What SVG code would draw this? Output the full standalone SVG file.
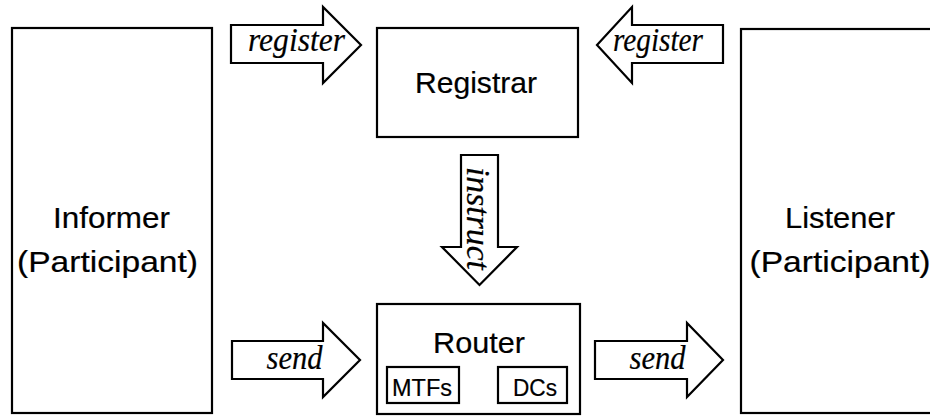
<svg xmlns="http://www.w3.org/2000/svg" width="930" height="416" viewBox="0 0 930 416">
<style>
.box{fill:#fff;stroke:#000;stroke-width:2.2}
.arr{fill:#fff;stroke:#000;stroke-width:2.2;stroke-linejoin:miter}
.sans{font-family:"Liberation Sans",Arial,sans-serif;font-size:29.5px;fill:#000;stroke:#000;stroke-width:0.2;text-anchor:middle}
.small{font-family:"Liberation Sans",Arial,sans-serif;font-size:24px;fill:#000;stroke:#000;stroke-width:0.2;text-anchor:middle}
.ital{font-family:"Liberation Serif","Times New Roman",serif;font-style:italic;font-size:34px;fill:#000;stroke:#000;stroke-width:0.2;text-anchor:middle}
</style>
<rect width="930" height="416" fill="#fff"/>
<g id="informer">
<rect class="box" x="12" y="28" width="200" height="385"/>
<text class="sans" x="111.5" y="228" textLength="117" lengthAdjust="spacingAndGlyphs">Informer</text>
<text class="sans" x="107.5" y="272" textLength="181" lengthAdjust="spacingAndGlyphs">(Participant)</text>
</g>
<g id="registrar">
<rect class="box" x="377" y="28" width="201" height="109"/>
<text class="sans" x="476" y="93" textLength="122" lengthAdjust="spacingAndGlyphs">Registrar</text>
</g>
<g id="router">
<rect class="box" x="377" y="304" width="203" height="110"/>
<text class="sans" x="479" y="353" textLength="92" lengthAdjust="spacingAndGlyphs">Router</text>
<rect class="box" x="387" y="367" width="72" height="36"/>
<text class="small" x="422" y="396" textLength="60" lengthAdjust="spacingAndGlyphs">MTFs</text>
<rect class="box" x="498" y="367" width="69" height="36"/>
<text class="small" x="535" y="396" textLength="44" lengthAdjust="spacingAndGlyphs">DCs</text>
</g>
<g id="listener">
<rect class="box" x="741" y="29" width="200" height="384"/>
<text class="sans" x="840" y="228" textLength="110" lengthAdjust="spacingAndGlyphs">Listener</text>
<text class="sans" x="840" y="272" textLength="181" lengthAdjust="spacingAndGlyphs">(Participant)</text>
</g>
<g id="connectors">
<g id="register-left">
<path class="arr" d="M231,25 H323 V7 L361,45 L323,83 V63 H231 Z"/>
<text class="ital" x="296.5" y="51" textLength="97" lengthAdjust="spacingAndGlyphs">register</text>
</g>
<g id="register-right">
<path class="arr" d="M723,25 H632 V7 L597,45 L632,83 V63 H723 Z"/>
<text class="ital" x="658" y="51" textLength="90" lengthAdjust="spacingAndGlyphs">register</text>
</g>
<g id="instruct">
<path class="arr" d="M461,155 H498 V247 H517 L479.5,285 L442,247 H461 Z"/>
<text class="ital" transform="translate(467,218.5) rotate(90)" x="0" y="0" textLength="103" lengthAdjust="spacingAndGlyphs">instruct</text>
</g>
<g id="send-left">
<path class="arr" d="M232,341 H323 V323 L360,360 L323,397 V379 H232 Z"/>
<text class="ital" x="294.5" y="369" textLength="56" lengthAdjust="spacingAndGlyphs">send</text>
</g>
<g id="send-right">
<path class="arr" d="M595,341 H687 V323 L723,360 L687,397 V379 H595 Z"/>
<text class="ital" x="657.5" y="369" textLength="56" lengthAdjust="spacingAndGlyphs">send</text>
</g>
</g>
</svg>
